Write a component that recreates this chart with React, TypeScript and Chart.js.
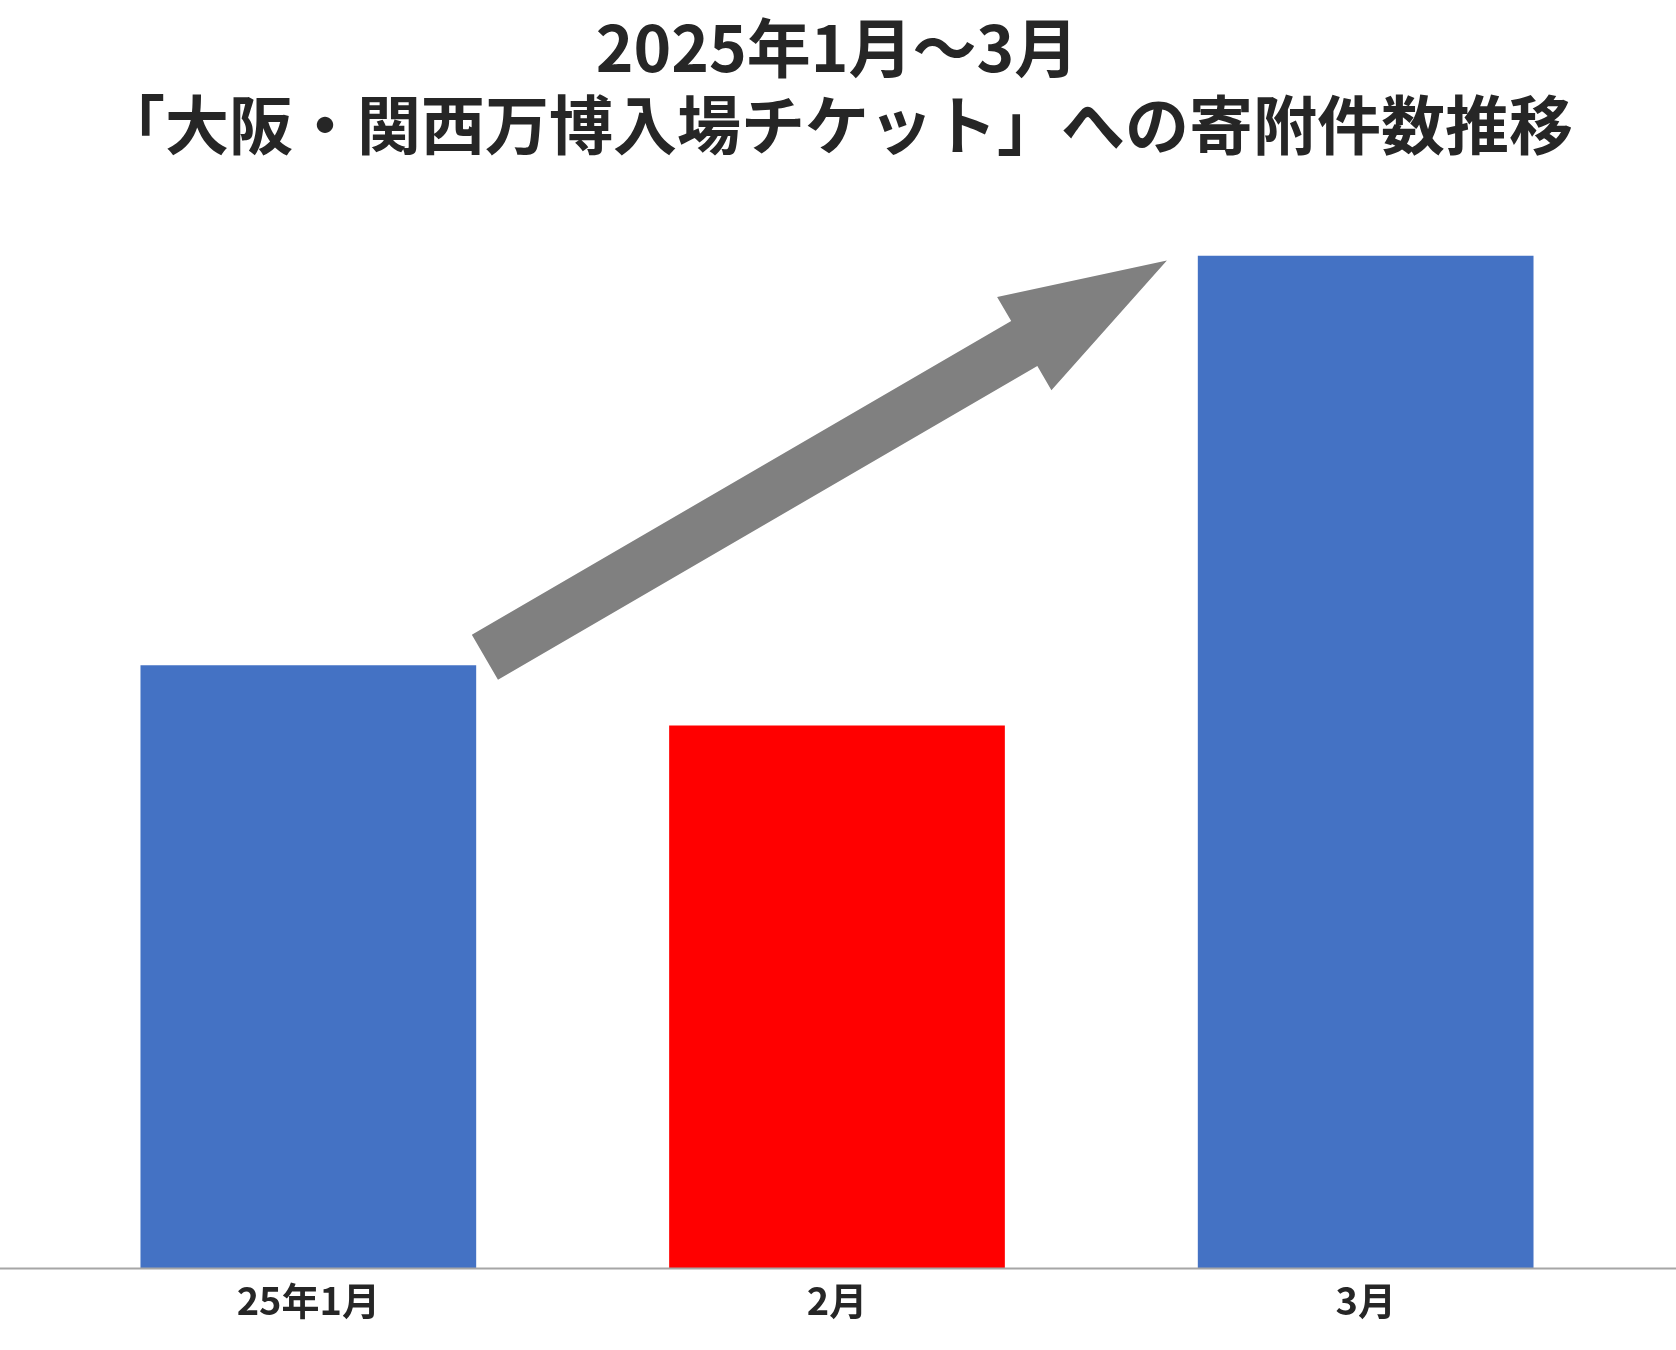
import React, { useEffect, useRef } from "react";
import { Chart, registerables } from "chart.js";

Chart.register(...registerables);

const titleLines = ["2025年1月～3月", "「大阪・関西万博入場チケット」への寄附件数推移"];
const categories = ["25年1月", "2月", "3月"];
const donationCounts = [602, 542, 1011];
const barColors = ["#4472C4", "#FF0000", "#4472C4"];
// arrow anchor points in data space (category index, value)
const arrowFrom = [0.334, 610];
const arrowTo = [1.624, 1006];

const FONT = '"Noto Sans CJK JP", "Noto Sans", sans-serif';

const fullAxisLine = {
  id: "fullAxisLine",
  afterDatasetsDraw(chart: any) {
    const { ctx, scales, width } = chart;
    const y = scales.y.getPixelForValue(0);
    ctx.save();
    ctx.strokeStyle = "#A6A6A6";
    ctx.lineWidth = 2;
    ctx.beginPath();
    ctx.moveTo(0, y);
    ctx.lineTo(width, y);
    ctx.stroke();
    ctx.restore();
  },
};

const trendArrow = {
  id: "trendArrow",
  afterDatasetsDraw(chart: any) {
    const { ctx, scales } = chart;
    const x0 = scales.x.getPixelForValue(arrowFrom[0]);
    const y0 = scales.y.getPixelForValue(arrowFrom[1]);
    const x1 = scales.x.getPixelForValue(arrowTo[0]);
    const y1 = scales.y.getPixelForValue(arrowTo[1]);
    const dx = x1 - x0;
    const dy = y1 - y0;
    const len = Math.hypot(dx, dy);
    const ux = dx / len, uy = dy / len;
    const nx = -uy, ny = ux;
    const shaftHalf = 26;
    const headLen = 165;
    const headHalf = 54;
    const bx = x1 - ux * headLen, by = y1 - uy * headLen;
    ctx.save();
    ctx.fillStyle = "#808080";
    ctx.beginPath();
    ctx.moveTo(x0 + nx * shaftHalf, y0 + ny * shaftHalf);
    ctx.lineTo(bx + nx * shaftHalf, by + ny * shaftHalf);
    ctx.lineTo(bx + nx * headHalf, by + ny * headHalf);
    ctx.lineTo(x1, y1);
    ctx.lineTo(bx - nx * headHalf, by - ny * headHalf);
    ctx.lineTo(bx - nx * shaftHalf, by - ny * shaftHalf);
    ctx.lineTo(x0 - nx * shaftHalf, y0 - ny * shaftHalf);
    ctx.closePath();
    ctx.fill();
    ctx.restore();
  },
};

export default function App() {
  const canvasRef = useRef<HTMLCanvasElement | null>(null);

  useEffect(() => {
    if (!canvasRef.current) return;
    const chart = new Chart(canvasRef.current, {
      type: "bar",
      data: {
        labels: categories,
        datasets: [
          {
            data: donationCounts,
            backgroundColor: barColors,
            borderWidth: 0,
            barPercentage: 1,
            categoryPercentage: 0.635,
          },
        ],
      },
      options: {
        animation: false,
        responsive: true,
        maintainAspectRatio: false,
        layout: { padding: { left: 44, right: 46, top: 0, bottom: 18 } },
        plugins: {
          legend: { display: false },
          tooltip: { enabled: false },
          title: {
            display: true,
            text: titleLines,
            color: "#262626",
            font: { family: FONT, size: 64, weight: "bold", lineHeight: 1.2 },
            padding: { top: 9, bottom: 93 },
          },
        },
        scales: {
          x: {
            grid: { display: false, drawTicks: false },
            border: { display: false },
            ticks: {
              color: "#262626",
              font: { family: FONT, size: 38, weight: "bold", lineHeight: 1.2 },
              padding: 9,
            },
          },
          y: {
            display: false,
            min: 0,
            max: 1011,
          },
        },
      },
      plugins: [fullAxisLine, trendArrow],
    });
    return () => chart.destroy();
  }, []);

  return (
    <div style={{ position: "fixed", left: 0, top: 0, width: 1676, height: 1350, background: "#fff" }}>
      <canvas ref={canvasRef} />
    </div>
  );
}
